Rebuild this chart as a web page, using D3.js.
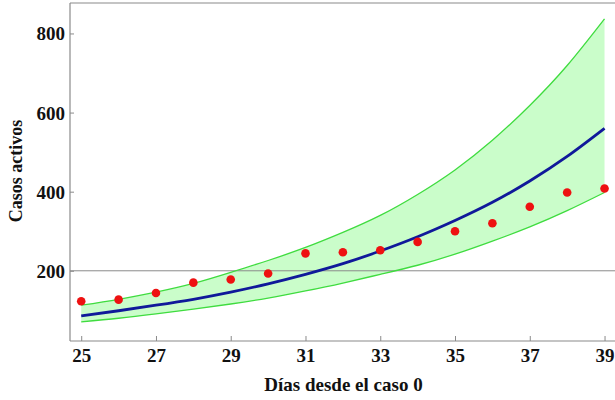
<!DOCTYPE html>
<html>
<head>
<meta charset="utf-8">
<script src="https://cdn.jsdelivr.net/npm/d3@7"></script>
<style>
  html, body { margin: 0; padding: 0; background: #fff; }
  svg { display: block; }
  text { font-family: "Liberation Serif", "Times New Roman", serif; font-weight: bold; fill: #111; }
</style>
</head>
<body>
<svg id="chart" width="615" height="400"></svg>
<script>
// Days since case 0
const days = [25, 26, 27, 28, 29, 30, 31, 32, 33, 34, 35, 36, 37, 38, 39];
// Observed active cases
const observed = [123, 127, 144, 170, 178, 193, 244, 247, 252, 273, 300, 320, 362, 398, 408];
// Fitted model curve
const fitted = [86, 99, 113, 128, 146, 167, 191, 218, 250, 286, 327, 373, 427, 489, 560];
// Confidence band bounds
const upper = [113, 128, 146, 168, 196, 226, 259, 297, 340, 393, 455, 530, 618, 719, 837];
const lower = [71, 80, 91, 103, 116, 131, 149, 169, 191, 214, 242, 275, 311, 352, 398];
// Axis ticks
const xTicks = [25, 27, 29, 31, 33, 35, 37, 39];
const yTicks = [200, 400, 600, 800];
const gridY = [200];

const svg = d3.select("#chart");
const plotLeft = 70, plotRight = 615, plotTop = 3, plotBottom = 341;

const x = d3.scaleLinear().domain([24.7, 39.28]).range([plotLeft, plotRight]);
const y = d3.scaleLinear().domain([22.5, 877]).range([plotBottom, plotTop]);

const rows = days.map((d, i) => ({ d, obs: observed[i], fit: fitted[i], hi: upper[i], lo: lower[i] }));
const curve = d3.curveNatural;

// Confidence band
svg.append("path")
  .datum(rows)
  .attr("fill", "#cafdca")
  .attr("d", d3.area().x(r => x(r.d)).y0(r => y(r.lo)).y1(r => y(r.hi)).curve(curve));

// Grid line
svg.selectAll("line.grid").data(gridY).join("line")
  .attr("class", "grid")
  .attr("x1", plotLeft).attr("x2", plotRight)
  .attr("y1", v => y(v)).attr("y2", v => y(v))
  .attr("stroke", "#8a8a8a").attr("stroke-width", 1);

// Band edges
const edge = key => d3.line().x(r => x(r.d)).y(r => y(r[key])).curve(curve);
["hi", "lo"].forEach(k => {
  svg.append("path").datum(rows)
    .attr("fill", "none").attr("stroke", "#3fdc3f").attr("stroke-width", 1.3)
    .attr("d", edge(k));
});

// Fitted curve
svg.append("path").datum(rows)
  .attr("fill", "none").attr("stroke", "#10199a").attr("stroke-width", 2.8)
  .attr("d", edge("fit"));

// Observed points
svg.selectAll("circle.obs").data(rows).join("circle")
  .attr("class", "obs")
  .attr("cx", r => x(r.d)).attr("cy", r => y(r.obs))
  .attr("r", 4.3).attr("fill", "#ee1111");

// Frame
const frame = svg.append("g").attr("stroke", "#8a8a8a").attr("stroke-width", 1.2).attr("fill", "none");
frame.append("line").attr("x1", plotLeft).attr("x2", plotLeft).attr("y1", plotTop).attr("y2", plotBottom);
frame.append("line").attr("x1", plotLeft).attr("x2", plotRight).attr("y1", plotBottom).attr("y2", plotBottom);
frame.append("line").attr("x1", plotLeft).attr("x2", plotRight).attr("y1", plotTop).attr("y2", plotTop);

// Y axis
const yAxis = svg.append("g")
  .attr("transform", `translate(${plotLeft},0)`)
  .call(d3.axisRight(y).tickValues(yTicks).tickSize(4).tickFormat(d3.format("d")));
yAxis.select(".domain").remove();
yAxis.selectAll(".tick line").attr("stroke", "#8a8a8a");
yAxis.selectAll(".tick text")
  .attr("x", -5).attr("text-anchor", "end").attr("dy", "0.34em")
  .style("font-size", "19px").style("font-family", "'Liberation Serif', serif").style("font-weight", "bold").attr("fill", "#111");

// X axis
const xAxis = svg.append("g")
  .attr("transform", `translate(0,${plotBottom})`)
  .call(d3.axisTop(x).tickValues(xTicks).tickSize(5).tickFormat(d3.format("d")));
xAxis.select(".domain").remove();
xAxis.selectAll(".tick line").attr("stroke", "#8a8a8a");
xAxis.selectAll(".tick text")
  .attr("y", 21).attr("dy", 0)
  .style("font-size", "19px").style("font-family", "'Liberation Serif', serif").style("font-weight", "bold").attr("fill", "#111");

// Axis titles
svg.append("text")
  .attr("x", (plotLeft + plotRight) / 2 + 1).attr("y", 391)
  .attr("text-anchor", "middle").style("font-size", "19px")
  .text("Días desde el caso 0");

svg.append("text")
  .attr("transform", `translate(22,${(plotTop + plotBottom) / 2 - 1}) rotate(-90)`)
  .attr("text-anchor", "middle").style("font-size", "18px")
  .text("Casos activos");
</script>
</body>
</html>
